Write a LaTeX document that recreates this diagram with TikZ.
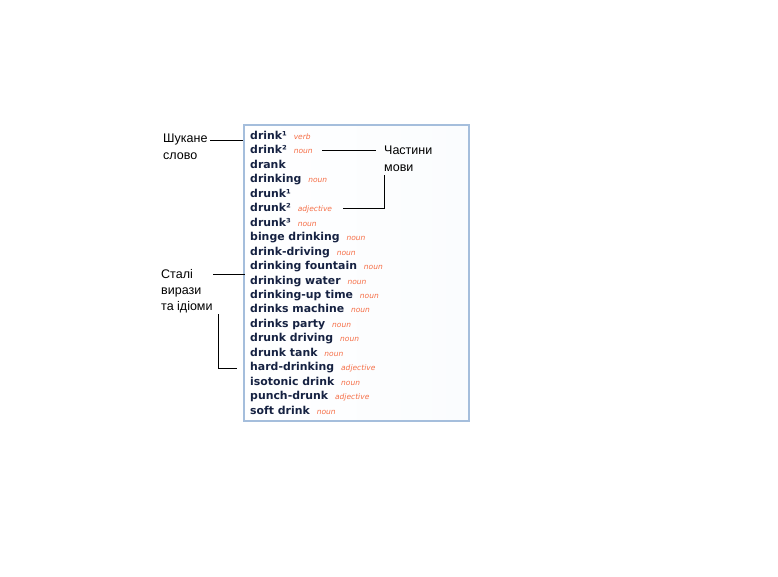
\documentclass[tikz,border=0pt]{standalone}
\usepackage{fontspec}
\newfontfamily\wordfont{DejaVu Sans}
\newfontfamily\lblfont{Liberation Sans}
\definecolor{wordcol}{RGB}{22,34,66}
\definecolor{poscol}{RGB}{246,110,70}
\definecolor{boxcol}{RGB}{165,190,220}
\begin{document}
\begin{tikzpicture}[x=1pt,y=-1pt,
  entry/.style={anchor=base west,inner sep=0pt,text=wordcol,font=\wordfont\bfseries\fontsize{10.9}{12}\selectfont},
  postag/.style={anchor=base west,inner sep=0pt,text=poscol,font=\wordfont\itshape\fontsize{7.5}{9}\selectfont},
  lbl/.style={anchor=north west,inner sep=0pt,align=left,font=\lblfont\fontsize{12.5}{16.3}\selectfont},
  conn/.style={draw=black,line width=1pt}]
\useasboundingbox (0,0) rectangle (778,576);
\fill[white] (0,0) rectangle (778,576);
\node[draw=boxcol,line width=2pt,left color=white,right color={rgb,255:red,250;green,252;blue,254},minimum width=225pt,minimum height=296pt,inner sep=0pt,anchor=north west] (box) at (242.5,124) {};
\foreach \w/\p [count=\i from 0] in {drink¹/verb,drink²/noun,drank/,drinking/noun,drunk¹/,drunk²/adjective,drunk³/noun,binge drinking/noun,drink-driving/noun,drinking fountain/noun,drinking water/noun,drinking-up time/noun,drinks machine/noun,drinks party/noun,drunk driving/noun,drunk tank/noun,hard-drinking/adjective,isotonic drink/noun,punch-drunk/adjective,soft drink/noun}{
  \node[entry] (w\i) at (250,{139.3+14.47*\i}) {\w};
  \node[postag] (p\i) at ([xshift=6.5pt]w\i.base east) {\p};
}
\node[lbl] (l1) at (163,134) {Шукане\\слово};
\node[lbl] (l2) at (384,146) {Частини\\мови};
\node[lbl] (l3) at (161,269) {Сталі\\вирази\\та ідіоми};
\coordinate (a1) at (210,140.5);
\draw[conn] (a1) -- (a1 -| box.west);
\coordinate (b1) at (322,150);
\coordinate (b2) at (376,150);
\draw[conn] (b1) -- (b2);
\coordinate (c1) at (343,208);
\coordinate (c2) at (384.5,175);
\draw[conn] (c1) -| (c2);
\coordinate (d1) at (213,274);
\coordinate (d2) at (245,274);
\draw[conn] (d1) -- (d2);
\coordinate (e1) at (218.5,314);
\coordinate (e2) at (237,368);
\draw[conn] (e1) |- (e2);
\end{tikzpicture}
\end{document}
